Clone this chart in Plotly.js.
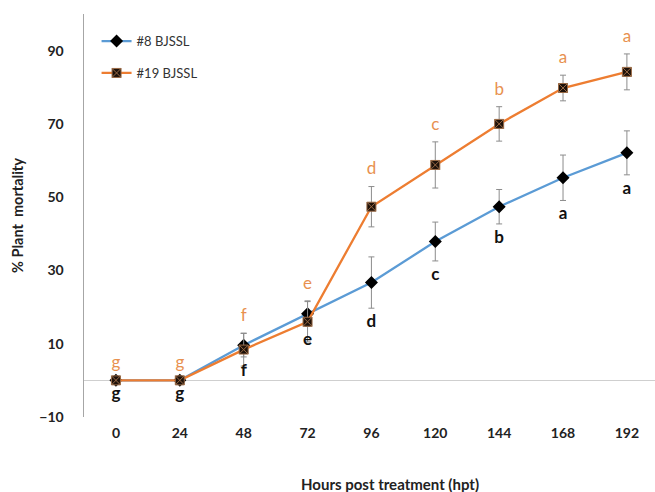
<!DOCTYPE html>
<html>
<head>
<meta charset="utf-8">
<script src="https://cdn.plot.ly/plotly-3.0.1.min.js"></script>
<style>html,body{margin:0;padding:0;background:#fff;}#chart{width:655px;height:492px;}</style>
</head>
<body>
<div id="chart"></div>
<script>
const hours = ["0","24","48","72","96","120","144","168","192"];
const bj8 = [0, 0, 9.6, 18.2, 26.7, 37.9, 47.4, 55.3, 62.1];
const bj8Err = [0, 0, 3.2, 3.5, 7.0, 5.3, 4.7, 6.2, 6.0];
const bj19 = [0, 0, 8.4, 16.0, 47.4, 58.8, 70.0, 79.8, 84.2];
const bj19Err = [0, 0, 4.5, 5.5, 5.5, 6.3, 4.7, 3.5, 4.9];
const letters8 = ["g","g","f","e","d","c","b","a","a"];
const letters19 = ["g","g","f","e","d","c","b","a","a"];
const xTitle = "Hours post treatment (hpt)";
const yTitle = "% Plant  mortality";

const FONT = "Lato, 'Open Sans', sans-serif";
const BLUE = "#5B9BD5", ORANGE = "#ED7D31", LETTER_OR = "#E8914F";

const traces = [
  {
    x: hours, y: bj8, name: "#8 BJSSL", type: "scatter", mode: "lines+markers",
    legendgroup: "a",
    line: {color: BLUE, width: 2.3},
    marker: {symbol: "diamond", size: 10, color: "#000"},
    error_y: {type: "data", array: bj8Err, color: "#8c8c8c", thickness: 1, width: 3}
  },
  {
    x: hours, y: bj19, name: "#19 BJSSL", type: "scatter", mode: "lines+markers",
    legendgroup: "b",
    line: {color: ORANGE, width: 2.3},
    marker: {symbol: "square-x", size: 9, color: "#1e120a", line: {color: "#9a6a45", width: 1}},
    error_y: {type: "data", array: bj19Err, color: "#8c8c8c", thickness: 1, width: 3}
  },
  {
    x: hours, y: bj19.map((v, i) => v + bj19Err[i]), type: "scatter", mode: "markers+text",
    marker: {size: 11, opacity: 0},
    text: letters19, textposition: "top center", showlegend: false, hoverinfo: "skip",
    textfont: {family: FONT, size: 17, color: LETTER_OR}
  },
  {
    x: hours, y: bj8.map((v, i) => v - bj8Err[i]), type: "scatter", mode: "markers+text",
    marker: {size: 8, opacity: 0},
    text: letters8, textposition: "bottom center", showlegend: false, hoverinfo: "skip",
    textfont: {family: FONT, size: 17, color: "#111", weight: "bold"}
  }
];

const layout = {
  width: 655, height: 492,
  margin: {l: 84, r: 0, t: 14, b: 75},
  paper_bgcolor: "#fff", plot_bgcolor: "#fff",
  font: {family: FONT, color: "#222"},
  showlegend: true,
  legend: {
    x: 0.022, y: 0.97, xanchor: "left", yanchor: "top",
    font: {family: FONT, size: 13, color: "#333"},
    bgcolor: "rgba(0,0,0,0)", tracegroupgap: 12, traceorder: "grouped"
  },
  xaxis: {
    type: "category", range: [-0.5, 8.44],
    showgrid: false, zeroline: false, showline: false, ticks: "",
    tickfont: {family: FONT, size: 14, color: "#222", weight: "bold"},
    ticklabelstandoff: 6
  },
  yaxis: {
    range: [-10, 100], tickvals: [-10, 10, 30, 50, 70, 90],
    showgrid: false, zeroline: true, zerolinecolor: "#cfcfcf", zerolinewidth: 1.5,
    showline: true, linecolor: "#a6a6a6", linewidth: 1.5, ticks: "",
    tickfont: {family: FONT, size: 14, color: "#222", weight: "bold"},
    ticklabelstandoff: 16,
    title: {text: "<b>" + yTitle + "</b>", font: {family: FONT, size: 14.5, color: "#222"}, standoff: 12}
  },
  annotations: [
    {
      text: "<b>" + xTitle + "</b>", xref: "paper", yref: "paper",
      x: 0.536, y: -0.166, xanchor: "center", yanchor: "middle", showarrow: false,
      font: {family: FONT, size: 15, color: "#222"}
    }
  ]
};

Plotly.newPlot("chart", traces, layout, {displayModeBar: false, staticPlot: true});
</script>
</body>
</html>
